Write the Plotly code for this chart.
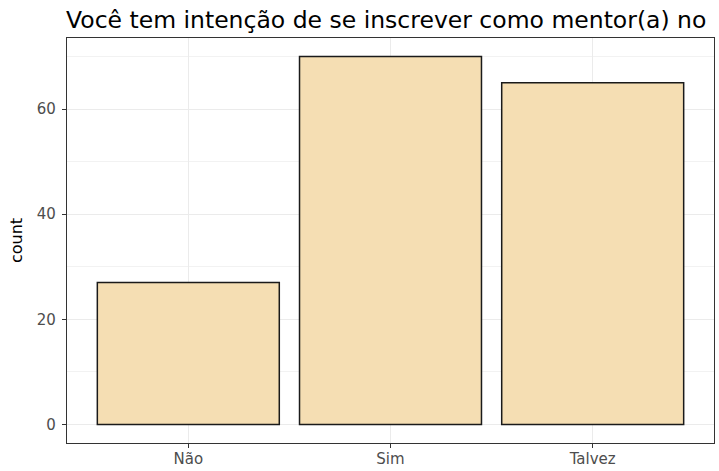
import plotly.graph_objects as go

categories = ["Não", "Sim", "Talvez"]
counts = [27, 70, 65]
title_text = "Você tem intenção de se inscrever como mentor(a) no"
y_ticks = [0, 20, 40, 60]

fig = go.Figure(go.Bar(
    x=categories, y=counts, width=0.9,
    marker=dict(color="#F5DEB3", line=dict(color="#1a1a1a", width=1.5)),
))

fig.update_layout(
    width=719, height=471,
    paper_bgcolor="white", plot_bgcolor="white",
    margin=dict(l=67, r=5, t=38, b=28, autoexpand=False),
    font=dict(family="DejaVu Sans, Arial, sans-serif"),
    title=dict(text=title_text, x=66/719, xref="container", xanchor="left",
               y=1 - 20/471, yanchor="middle", yref="container",
               font=dict(size=23.5, color="black")),
    showlegend=False, bargap=0.1,
)
fig.update_xaxes(
    range=[-0.6, 2.6], showline=True, mirror=True, linecolor="#333333", linewidth=1.2,
    ticks="outside", ticklen=4, tickcolor="#333333", tickwidth=1.1,
    showgrid=True, gridcolor="#EBEBEB", gridwidth=1, automargin=False,
    tickfont=dict(size=15, color="#4D4D4D"), zeroline=False, ticklabelstandoff=-2,
)
fig.update_yaxes(
    range=[-3.5, 73.5], showline=True, mirror=True, linecolor="#333333", linewidth=1.2,
    ticks="outside", ticklen=4, tickcolor="#333333", tickwidth=1.1,
    tickvals=y_ticks, showgrid=True, gridcolor="#EBEBEB", gridwidth=1.1, automargin=False,
    minor=dict(tick0=10, dtick=20, showgrid=True, gridcolor="#F2F2F2", gridwidth=0.8, ticks=""),
    tickfont=dict(size=15, color="#4D4D4D"), zeroline=False, ticklabelstandoff=3,
    title=dict(text="count", font=dict(size=16, color="black"), standoff=10),
)

fig.write_html("out.html", config={"displayModeBar": False},
               post_script="document.body.style.margin='0';document.body.style.padding='0';")
